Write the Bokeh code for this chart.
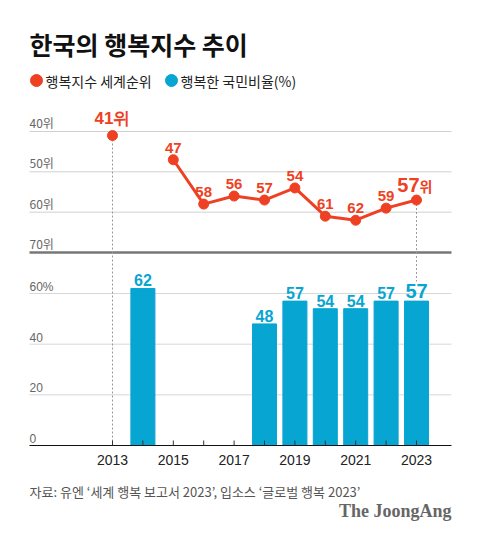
from bokeh.plotting import figure
from bokeh.models import Range1d
from bokeh.core.properties import value
from bokeh.embed import file_html
from bokeh.resources import INLINE

# ---------------- data ----------------
title = "한국의 행복지수 추이"
series_names = ["행복지수 세계순위", "행복한 국민비율(%)"]
rank_years = [2013, 2015, 2016, 2017, 2018, 2019, 2020, 2021, 2022, 2023]
ranks = [41, 47, 58, 56, 57, 54, 61, 62, 59, 57]
pct_years = [2014, 2018, 2019, 2020, 2021, 2022, 2023]
pct_values = [62, 48, 57, 54, 54, 57, 57]
rank_ticks = [40, 50, 60, 70]
rank_tick_labels = ["40위", "50위", "60위", "70위"]
pct_ticks = [0, 20, 40, 60]
pct_tick_labels = ["0", "20", "40", "60%"]
year_ticks = [2013, 2014, 2015, 2016, 2017, 2018, 2019, 2020, 2021, 2022, 2023]
year_tick_labels = ["2013", "2015", "2017", "2019", "2021", "2023"]
rank_suffix = "위"
source_text = "자료: 유엔 ‘세계 행복 보고서 2023’, 입소스 ‘글로벌 행복 2023’"
brand = "The JoongAng"

# ---------------- styles ----------------
RED = "#EE4123"
BLUE = "#07A5D1"
KR = value("Noto Sans CJK KR")
NUM = value("Liberation Sans")

W, H = 464, 525
OFF = 0  # observed page offset of the figure
# mapping (pixel coordinates of the reference)
X2013, PX_YEAR = 112.0, 30.4
Y_R40, PX_RANK = 131.0, 4.033
Y_P0, PX_PCT = 445.0, 2.533
LEFT, RIGHT = 29, 451
top_px, bot_px = OFF, OFF + H
left_px, right_px = OFF, OFF + W

def rank_at(py):
    return 40 + (py - Y_R40) / PX_RANK

def pct_at(py):
    return (Y_P0 - py) / PX_PCT

x_range = Range1d(2013 - (X2013 - left_px) / PX_YEAR, 2013 + (right_px - X2013) / PX_YEAR)
p = figure(width=W, height=H, x_range=x_range, y_range=Range1d(bot_px, top_px),
           output_backend="svg", toolbar_location=None, min_border=0,
           x_axis_type=None, y_axis_type=None)
p.extra_x_ranges = {"px": Range1d(left_px, right_px)}
p.extra_y_ranges = {"rank": Range1d(rank_at(bot_px), rank_at(top_px)),
                    "pct": Range1d(pct_at(bot_px), pct_at(top_px))}
p.grid.visible = False
p.outline_line_color = None
p.background_fill_color = "white"
p.border_fill_color = "white"

# title & legend
p.text(x=[LEFT], y=[43], text=[title], x_range_name="px", text_font=KR,
       text_font_size="25px", text_font_style="bold", text_color="#111111",
       text_baseline="middle", text_align="left")
p.scatter(x=[36, 171], y=[80, 80], size=12, color=[RED, BLUE], x_range_name="px")
p.text(x=[45, 180], y=[80, 80], text=series_names, x_range_name="px", text_font=KR,
       text_font_size="14px", text_color="#222222", text_baseline="middle")

# rank gridlines
p.segment(x0=LEFT, x1=RIGHT, y0=rank_ticks[:-1], y1=rank_ticks[:-1], x_range_name="px",
          y_range_name="rank", line_color="#d0d0d0", line_width=1)
p.segment(x0=LEFT, x1=RIGHT, y0=rank_ticks[-1:], y1=rank_ticks[-1:], x_range_name="px",
          y_range_name="rank", line_color="#777777", line_width=2.5)
p.text(x=LEFT, y=rank_ticks, text=rank_tick_labels, x_range_name="px", y_range_name="rank",
       text_font=KR, text_font_size="12px", text_color="#666666", y_offset=-9,
       text_baseline="middle")

# pct gridlines
p.segment(x0=LEFT, x1=RIGHT, y0=pct_ticks[1:], y1=pct_ticks[1:], x_range_name="px",
          y_range_name="pct", line_color="#d8d8d8", line_width=1)
p.text(x=LEFT, y=pct_ticks, text=pct_tick_labels, x_range_name="px", y_range_name="pct",
       text_font=NUM, text_font_size="12px", text_color="#666666", y_offset=-7,
       text_baseline="middle")

# dotted guide lines
p.segment(x0=rank_years[:1], x1=rank_years[:1], y0=ranks[:1], y1=[rank_at(Y_P0)],
          y_range_name="rank", line_color="#999999", line_dash="2 2", line_width=1)
p.segment(x0=rank_years[-1:], x1=rank_years[-1:], y0=ranks[-1:], y1=[rank_at(281)],
          y_range_name="rank", line_color="#999999", line_dash="2 2", line_width=1)

# bars
p.vbar(x=pct_years, top=pct_values, bottom=0, width=0.79, color=BLUE, y_range_name="pct")
p.text(x=pct_years[:-1], y=pct_values[:-1], text=[str(v) for v in pct_values[:-1]],
       y_range_name="pct", text_font=NUM, text_font_size="16px", text_font_style="bold",
       text_color=BLUE, text_align="center", text_baseline="middle", y_offset=-8)
p.text(x=pct_years[-1:], y=pct_values[-1:], text=[str(v) for v in pct_values[-1:]],
       y_range_name="pct", text_font=NUM, text_font_size="20px", text_font_style="bold",
       text_color=BLUE, text_align="center", text_baseline="middle", y_offset=-10)

# x axis
p.segment(x0=LEFT, x1=RIGHT, y0=Y_P0, y1=Y_P0, x_range_name="px", line_color="#111111", line_width=1.2)
p.segment(x0=year_ticks, x1=year_ticks, y0=Y_P0, y1=Y_P0 - 5, line_color="#333333", line_width=1)
p.text(x=[int(t) for t in year_tick_labels], y=Y_P0 + 14, text=year_tick_labels,
       text_font=NUM, text_font_size="14px", text_color="#222222", text_align="center",
       text_baseline="middle")

# rank line
p.line(rank_years[1:], ranks[1:], y_range_name="rank", line_color=RED, line_width=3)
p.scatter(rank_years, ranks, y_range_name="rank", size=10, color=RED)
p.text(x=rank_years[1:-1], y=ranks[1:-1], text=[str(v) for v in ranks[1:-1]],
       y_range_name="rank", text_font=NUM, text_font_size="15px", text_font_style="bold",
       text_color=RED, text_align="center", text_baseline="middle", y_offset=-12)
p.text(x=rank_years[:1], y=ranks[:1], text=[f"{ranks[0]}{rank_suffix}"],
       y_range_name="rank", text_font=NUM, text_font_size="17px", text_font_style="bold",
       text_color=RED, text_align="center", text_baseline="middle", y_offset=-17)
p.text(x=rank_years[-1:], y=ranks[-1:], text=[str(ranks[-1])],
       y_range_name="rank", text_font=NUM, text_font_size="20px", text_font_style="bold",
       text_color=RED, text_align="right", text_baseline="middle", y_offset=-15, x_offset=3)
p.text(x=rank_years[-1:], y=ranks[-1:], text=[rank_suffix],
       y_range_name="rank", text_font=KR, text_font_size="14px", text_font_style="bold",
       text_color=RED, text_align="left", text_baseline="middle", y_offset=-14, x_offset=3)

# footer
p.text(x=[LEFT], y=[491], text=[source_text], x_range_name="px", text_font=KR,
       text_font_size="13px", text_color="#555555", text_baseline="middle")
p.text(x=[RIGHT], y=[510], text=[brand], x_range_name="px", text_font=value("Liberation Serif"),
       text_font_size="18px", text_font_style="bold", text_color="#666666",
       text_align="right", text_baseline="middle")

open("out.html", "w").write(file_html(p, INLINE))
